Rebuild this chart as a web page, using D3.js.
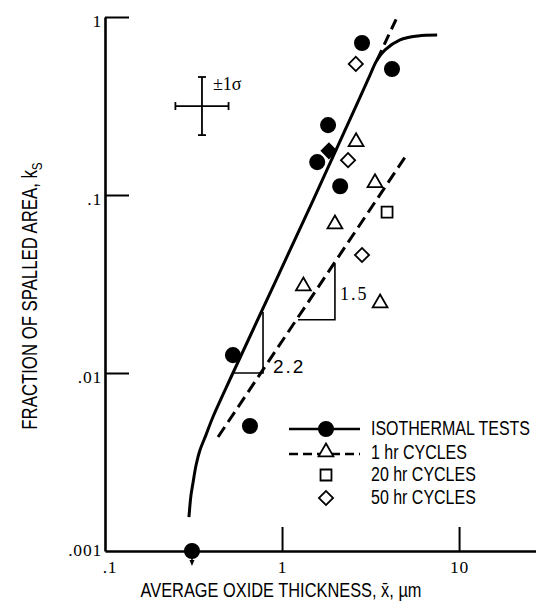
<!DOCTYPE html>
<html><head><meta charset="utf-8">
<script src="https://cdn.jsdelivr.net/npm/d3@7"></script>
<style>body{margin:0;background:#fff}svg{display:block}</style>
</head><body>
<script>
// ---- data ----
const isoX = [2.83, 4.18, 1.82, 1.58, 2.13, 0.528, 0.659, 0.310];
const isoY = [0.714, 0.510, 0.247, 0.153, 0.112, 0.0126, 0.00504, 0.001];
const iso50X = [1.84];           // filled diamond
const iso50Y = [0.177];
const cyc1X = [2.62, 3.35, 1.99, 1.32, 3.58];
const cyc1Y = [0.199, 0.117, 0.0687, 0.0308, 0.0247];
const cyc20X = [3.92];
const cyc20Y = [0.0802];
const cyc50X = [2.61, 2.36, 2.83];
const cyc50Y = [0.545, 0.157, 0.046];
const isoFitX = [0.298, 0.306, 0.314, 0.327, 0.344, 0.372, 0.407, 0.528, 1.50, 2.76, 3.14, 3.44, 3.82, 4.64, 5.86, 7.52];
const isoFitY = [0.00155, 0.00206, 0.00241, 0.00304, 0.00369, 0.00449, 0.00566, 0.01, 0.0937, 0.355, 0.472, 0.573, 0.653, 0.743, 0.782, 0.792];
const isoExtX = [3.44, 4.47];
const isoExtY = [0.573, 1.0];
const cycFitX = [0.435, 4.95];
const cycFitY = [0.00437, 0.163];
const tri22X = [0.535, 0.781, 0.781];
const tri22Y = [0.01, 0.01, 0.0220];
const tri15X = [1.23, 1.99, 1.99];
const tri15Y = [0.0199, 0.0199, 0.0410];
const errCenter = [0.353, 0.316];
const errFactor = [1.413, 1.456];
const xTickVals = [0.1, 1, 10];
const xTickLabels = [".1", "1", "10"];
const yTickVals = [0.001, 0.01, 0.1, 1];
const yTickLabels = [".001", ".01", ".1", "1"];
const legendLabels = ["ISOTHERMAL TESTS", "1 hr CYCLES", "20 hr CYCLES", "50 hr CYCLES"];

// ---- chart ----
const W = 536, H = 603;
const svg = d3.select("body").append("svg").attr("width", W).attr("height", H);
const x = d3.scaleLog().domain([0.1, 27.2]).range([105, 536]);
const y = d3.scaleLog().domain([0.001, 1]).range([551, 17]);
const sans = "'Liberation Sans', Arial, sans-serif";
const serif = "'Liberation Serif', 'Times New Roman', serif";
const SQ = 0.78;

// axes
const xAxis = d3.axisBottom(x).tickValues(xTickVals).tickFormat((d, i) => xTickLabels[i])
  .tickSize(-24).tickSizeOuter(0).tickPadding(10);
const gx = svg.append("g").attr("transform", `translate(0,${y(0.001)})`).call(xAxis);
const yAxis = d3.axisLeft(y).tickValues(yTickVals).tickFormat((d, i) => yTickLabels[i])
  .tickSize(-24).tickSizeOuter(0).tickPadding(3);
const gy = svg.append("g").attr("transform", `translate(${x(0.1)},0)`).call(yAxis);
[gx, gy].forEach(g => {
  g.select(".domain").attr("stroke", "#000").attr("stroke-width", 2.6);
  g.selectAll(".tick line").attr("stroke", "#000").attr("stroke-width", 2);
  g.selectAll(".tick text").attr("fill", "#000").attr("font-family", serif).attr("font-size", 17.5).attr("letter-spacing", 0.8);
});
gx.selectAll(".tick").filter(d => d === 0.1).select("line").remove();
gx.selectAll(".tick").filter(d => d === 0.1).select("text").attr("x", 4.5);
gy.selectAll(".tick").filter(d => d === 0.001).select("line").remove();
gy.selectAll(".tick text").attr("dy", "0.55em");
gy.selectAll(".tick").filter(d => d === 0.001).select("text").attr("dy", "0.25em");

// fit lines
const line = d3.line().x(d => x(d[0])).y(d => y(d[1]));
const curve = d3.line().x(d => x(d[0])).y(d => y(d[1])).curve(d3.curveCatmullRom.alpha(0.5));
svg.append("path").datum(d3.zip(isoFitX, isoFitY)).attr("d", curve)
  .attr("fill", "none").attr("stroke", "#000").attr("stroke-width", 3);
svg.append("path").datum(d3.zip(isoExtX, isoExtY)).attr("d", line)
  .attr("fill", "none").attr("stroke", "#000").attr("stroke-width", 3).attr("stroke-dasharray", "11,6");
svg.append("path").datum(d3.zip(cycFitX, cycFitY)).attr("d", line)
  .attr("fill", "none").attr("stroke", "#000").attr("stroke-width", 3).attr("stroke-dasharray", "12,6");

// slope triangles
[tri22X, tri15X].forEach((tx, k) => {
  const ty = k === 0 ? tri22Y : tri15Y;
  svg.append("path").datum(d3.zip(tx, ty)).attr("d", line)
    .attr("fill", "none").attr("stroke", "#000").attr("stroke-width", 1.6);
});
svg.append("text").attr("x", x(tri22X[1]) + 10).attr("y", y(tri22Y[0]))
  .attr("font-family", sans).attr("font-size", 19).attr("letter-spacing", 2).text("2.2");
svg.append("text").attr("x", x(tri15X[1]) + 5).attr("y", y(tri15Y[0]) - 20)
  .attr("font-family", serif).attr("font-size", 18).attr("letter-spacing", 2).text("1.5");

// error bar
const [ecx, ecy] = errCenter;
const ex0 = x(ecx / errFactor[0]), ex1 = x(ecx * errFactor[0]);
const ey0 = y(ecy * errFactor[1]), ey1 = y(ecy / errFactor[1]);
const eg = svg.append("g").attr("stroke", "#000").attr("stroke-width", 1.8);
eg.append("line").attr("x1", ex0).attr("x2", ex1).attr("y1", y(ecy)).attr("y2", y(ecy));
eg.append("line").attr("x1", x(ecx)).attr("x2", x(ecx)).attr("y1", ey0).attr("y2", ey1);
eg.append("line").attr("x1", ex0).attr("x2", ex0).attr("y1", y(ecy) - 4).attr("y2", y(ecy) + 4);
eg.append("line").attr("x1", ex1).attr("x2", ex1).attr("y1", y(ecy) - 4).attr("y2", y(ecy) + 4);
eg.append("line").attr("x1", x(ecx) - 4).attr("x2", x(ecx) + 4).attr("y1", ey0).attr("y2", ey0);
eg.append("line").attr("x1", x(ecx) - 4).attr("x2", x(ecx) + 4).attr("y1", ey1).attr("y2", ey1);
svg.append("text").attr("x", x(ecx) + 11).attr("y", ey0 + 13)
  .attr("font-family", serif).attr("font-size", 18).text("±1σ");

// markers
const sym = (type, size) => d3.symbol().type(type).size(size)();
function plot(xs, ys, type, size, fill, rot) {
  svg.append("g").selectAll("path").data(d3.zip(xs, ys)).join("path")
    .attr("d", sym(type, size))
    .attr("transform", d => `translate(${x(d[0])},${y(d[1])})` + (rot ? ` rotate(${rot})` : ""))
    .attr("fill", fill ? "#000" : "#fff").attr("stroke", "#000").attr("stroke-width", 1.8);
}
plot(cyc1X, cyc1Y, d3.symbolTriangle, 95, false);
plot(cyc20X, cyc20Y, d3.symbolSquare, 120, false);
plot(cyc50X, cyc50Y, d3.symbolSquare, 100, false, 45);
plot(iso50X, iso50Y, d3.symbolSquare, 105, true, 45);
plot(isoX, isoY, d3.symbolCircle, 160, true);

// arrow under the bottom point (value below .001)
const lastX = x(isoX[7]), lastY = y(isoY[7]);
svg.append("line").attr("x1", lastX).attr("x2", lastX).attr("y1", lastY).attr("y2", lastY + 12)
  .attr("stroke", "#000").attr("stroke-width", 1.5);
svg.append("path").attr("d", `M${lastX - 2.5},${lastY + 9}L${lastX + 2.5},${lastY + 9}L${lastX},${lastY + 15}Z`).attr("fill", "#000");

// legend
const lg = svg.append("g");
const rows = [429, 453, 475, 498];
const sx = 289, ex = 360, mx = 326;
lg.append("line").attr("x1", sx).attr("x2", ex).attr("y1", rows[0]).attr("y2", rows[0])
  .attr("stroke", "#000").attr("stroke-width", 2.6);
lg.append("line").attr("x1", sx).attr("x2", ex).attr("y1", rows[1] + 1).attr("y2", rows[1] + 1)
  .attr("stroke", "#000").attr("stroke-width", 2.4).attr("stroke-dasharray", "9,5");
const lm = [[d3.symbolCircle, 160, true, 0], [d3.symbolTriangle, 95, false, 0], [d3.symbolSquare, 120, false, 0], [d3.symbolSquare, 100, false, 45]];
lm.forEach((m, i) => {
  lg.append("path").attr("d", sym(m[0], m[1]))
    .attr("transform", `translate(${mx},${rows[i] - (i === 1 ? 1 : 0)}) rotate(${m[3]})`)
    .attr("fill", m[2] ? "#000" : "#fff").attr("stroke", "#000").attr("stroke-width", 1.8);
});
legendLabels.forEach((t, i) => {
  lg.append("text").attr("transform", `translate(371,${rows[i] + 6}) scale(${SQ},1)`)
    .attr("font-family", sans).attr("font-size", 20.5).text(t);
});

// axis titles
svg.append("text").attr("transform", `translate(281,597) scale(${SQ},1)`)
  .attr("text-anchor", "middle").attr("font-family", sans).attr("font-size", 21)
  .text("AVERAGE OXIDE THICKNESS, x\u0304, \u00b5m");
const yl = svg.append("text").attr("transform", `translate(37,296) rotate(-90) scale(${SQ},1)`)
  .attr("text-anchor", "middle").attr("font-family", sans).attr("font-size", 21.5);
yl.append("tspan").text("FRACTION OF SPALLED AREA, k");
yl.append("tspan").attr("dy", 5).attr("font-size", 15).text("S");
</script>
</body></html>
